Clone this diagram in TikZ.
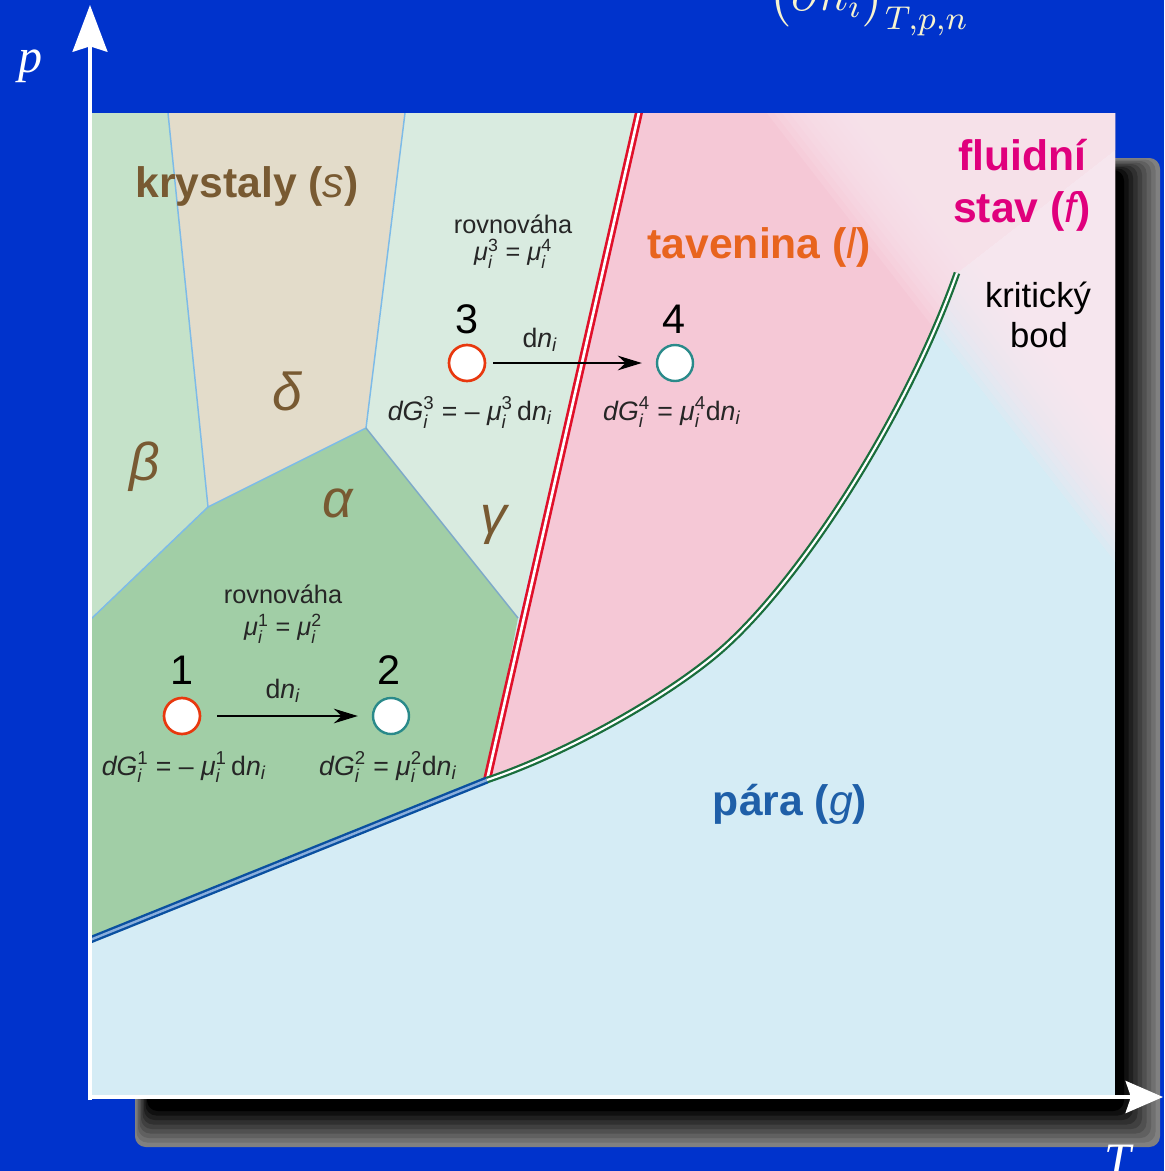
\documentclass[tikz,border=0pt]{standalone}
\usepackage{fontspec}
\setmainfont{Liberation Sans}
\newfontfamily\seriffont{Liberation Serif}
\usepackage{amsmath}
\usepackage{graphicx}
\usetikzlibrary{arrows.meta,calc}
\definecolor{bgblue}{HTML}{0033CC}
\definecolor{vapor}{HTML}{D5ECF5}
\definecolor{melt}{HTML}{F5C8D6}
\definecolor{fluid}{HTML}{FBE6EE}
\definecolor{alphag}{HTML}{A1CEA6}
\definecolor{betag}{HTML}{C5E2C9}
\definecolor{gammag}{HTML}{D9EBE0}
\definecolor{deltab}{HTML}{E3DCCA}
\definecolor{brownt}{HTML}{785A32}
\definecolor{oranget}{HTML}{E8641E}
\definecolor{magentat}{HTML}{E0007D}
\definecolor{bluet}{HTML}{1F5FA8}
\definecolor{thinb}{HTML}{7DBBE8}
\definecolor{redl}{HTML}{E0102A}
\definecolor{greenl}{HTML}{1A6E3C}
\definecolor{bluel}{HTML}{0A50A0}
\definecolor{bluelc}{HTML}{8AAEDC}
\definecolor{cream}{HTML}{F7F3CF}
\definecolor{redc}{HTML}{E8380E}
\definecolor{tealc}{HTML}{2A8A8A}
\newcommand{\muu}[1]{\textit{μ}$_{\text{\textit{i}}}^{\text{#1}}$}
\newcommand{\dGi}[1]{\textit{dG}$_{\text{\textit{i}}}^{\text{#1}}$}
\newcommand{\dni}{d\textit{n}$_{\text{\textit{i}}}$}
\tikzset{
  biglabel/.style={font=\fontsize{32}{36}\selectfont\bfseries, anchor=base, inner sep=0pt},
  greek/.style={font=\fontsize{40}{44}\selectfont\itshape, text=brownt, anchor=base, inner sep=0pt},
  smalltext/.style={font=\fontsize{19}{22}\selectfont, text=black!85, anchor=base, inner sep=0pt},
  formula/.style={font=\fontsize{20}{22}\selectfont, text=black!85, anchor=base, inner sep=0pt},
  numlabel/.style={font=\fontsize{31}{34}\selectfont, anchor=base, inner sep=0pt},
  kritlabel/.style={font=\fontsize{26}{30}\selectfont, anchor=base, inner sep=0pt},
  statein/.style={circle, draw=redc, fill=white, line width=2pt, minimum size=27pt, inner sep=0pt},
  stateout/.style={circle, draw=tealc, fill=white, line width=1.8pt, minimum size=27pt, inner sep=0pt},
  flowarrow/.style={draw=black, line width=1.1pt, -{Stealth[length=18pt, width=11pt]}},
  thinline/.style={draw=thinb, line width=1.1pt},
  axisline/.style={draw=white, line width=3pt},
}
\begin{document}
\begin{tikzpicture}[x=0.75pt, y=-0.75pt]
\useasboundingbox (0,0) rectangle (1164,1171);
\fill[bgblue] (0,0) rectangle (1164,1171);
% shadow
\foreach \i in {0,...,8} {
  \pgfmathsetmacro{\shadelev}{50+\i*6.25}
  \fill[black!\shadelev, rounded corners=8pt] (135+\i*1.5,158+\i*1.5) rectangle (1160-\i*4.5,1147-\i*4.5);
}
% top partial formula
\node[anchor=base west, text=cream, font=\fontsize{12}{14}\selectfont, inner sep=0pt] (topf) at (768,10) {\scalebox{3.1}{$\bigl(\partial n_i\bigr)$\raisebox{-4.8pt}{$\scriptstyle T,p,n$}}};
% frame and regions
\coordinate (trip) at (487,780);
\coordinate (crit) at (957,273);
\begin{scope}
\clip (90,113) rectangle (1115,1097);
\fill[vapor] (90,113) rectangle (1115,1097);
\fill[melt] (640,113) -- (trip) .. controls (562,755) and (658,702) .. (713,657) .. controls (795,590) and (905,420) .. (crit) -- (1115,150) -- (1115,113) -- cycle;
\foreach \s in {-50,-44,...,50} {
  \fill[fluid, fill opacity=0.18] ($(523.5,-282)+\s*(0.790,-0.613)$) -- ($(1421.5,875)+\s*(0.790,-0.613)$) -- ($(2132.5,323)+\s*(0.790,-0.613)$) -- ($(1234.5,-833.7)+\s*(0.790,-0.613)$) -- cycle;
}
\fill[betag] (90,113) -- (168,113) -- (208,507) -- (90,620) -- cycle;
\fill[deltab] (168,113) -- (405,113) -- (366,428) -- (208,507) -- cycle;
\fill[gammag] (405,113) -- (640,113) -- (518,618) -- (366,428) -- cycle;
\fill[alphag] (90,620) -- (208,507) -- (366,428) -- (518,618) -- (trip) -- (90,940) -- cycle;
\draw[thinline] (168,113) -- (208,507) -- (90,620);
\draw[thinline] (405,113) -- (366,428);
\draw[thinline] (208,507) -- (366,428);
\draw[thinline, draw=thinb!70!gray] (366,428) -- (518,618);
% phase boundaries
\draw[redl, line width=6pt] (640,108) -- (trip);
\draw[white, line width=2pt] (640,108) -- (trip);
\draw[bluel, line width=5.4pt] (80,944) -- (trip);
\draw[bluelc, line width=1.8pt] (80,944) -- (trip);
\draw[greenl, line width=5pt] (trip) .. controls (562,755) and (658,702) .. (713,657) .. controls (795,590) and (905,420) .. (crit);
\draw[white, line width=1.6pt] (trip) .. controls (562,755) and (658,702) .. (713,657) .. controls (795,590) and (905,420) .. (crit);
\end{scope}
% region labels
\node[biglabel, text=brownt] (kryst) at (247,197) {krystaly ({\mdseries\itshape s})};
\node[biglabel, text=oranget] (tav) at (759,258) {tavenina ({\mdseries\itshape l})};
\node[biglabel, text=magentat] (fl1) at (1022,170) {fluidní};
\node[biglabel, text=magentat] (fl2) at (1022,222) {stav ({\mdseries\itshape f})};
\node[biglabel, text=bluet] (para) at (790,815) {pára ({\mdseries\itshape g})};
\node[kritlabel] (krit1) at (1038,307) {kritický};
\node[kritlabel] (krit2) at (1039,347) {bod};
\node[greek] (gdelta) at (287,410) {δ};
\node[greek] (gbeta) at (145,480) {β};
\node[greek] (galpha) at (338,517) {α};
\node[greek] (ggamma) at (494,533) {γ};
% upper equilibrium 3 -> 4
\node[smalltext] (rov2) at (513,233) {rovnováha};
\node[smalltext] (eq2) at (513,260) {\muu{3} = \muu{4}};
\node[numlabel] (n3) at (467,333) {3};
\node[numlabel] (n4) at (674,333) {4};
\node[statein] (c3) at (467,363) {};
\node[stateout] (c4) at (675,363) {};
\draw[flowarrow, shorten <=5pt, shorten >=10.5pt] (c3) -- (c4);
\node[formula] (dn2) at (540,347) {\dni};
\node[formula] (f3) at (470,420) {\dGi{3} = – \muu{3}\,\dni};
\node[formula] (f4) at (672,420) {\dGi{4} = \muu{4}\dni};
% lower equilibrium 1 -> 2
\node[smalltext] (rov1) at (283,603) {rovnováha};
\node[smalltext] (eq1) at (283,635) {\muu{1} = \muu{2}};
\node[numlabel] (n1) at (182,684) {1};
\node[numlabel] (n2) at (389,684) {2};
\node[statein] (c1) at (182,716) {};
\node[stateout] (c2) at (391,716) {};
\draw[flowarrow, shorten <=12pt, shorten >=10.5pt] (c1) -- (c2);
\node[formula] (dn1) at (283,698) {\dni};
\node[formula] (f1) at (184,775) {\dGi{1} = – \muu{1}\,\dni};
\node[formula] (f2) at (388,775) {\dGi{2} = \muu{2}\dni};
% axes
\coordinate (O) at (90,1097);
\coordinate (Ptop) at (90,5);
\coordinate (Tend) at (1163,1097);
\coordinate (Obelow) at (90,1100);
\draw[axisline, -{Stealth[length=35pt, width=26pt, inset=4pt]}] (Obelow) -- (Ptop);
\draw[axisline, -{Stealth[length=28pt, width=24pt, inset=4pt]}] (O) -- (Tend);
\node[text=white, font=\fontsize{36}{40}\selectfont\seriffont\itshape, inner sep=0pt] (plabel) at (30,66) {p};
\node[text=white, font=\fontsize{36}{40}\selectfont\seriffont\itshape, inner sep=0pt, anchor=base] (tlabel) at (1118,1176) {T};
\end{tikzpicture}
\end{document}
